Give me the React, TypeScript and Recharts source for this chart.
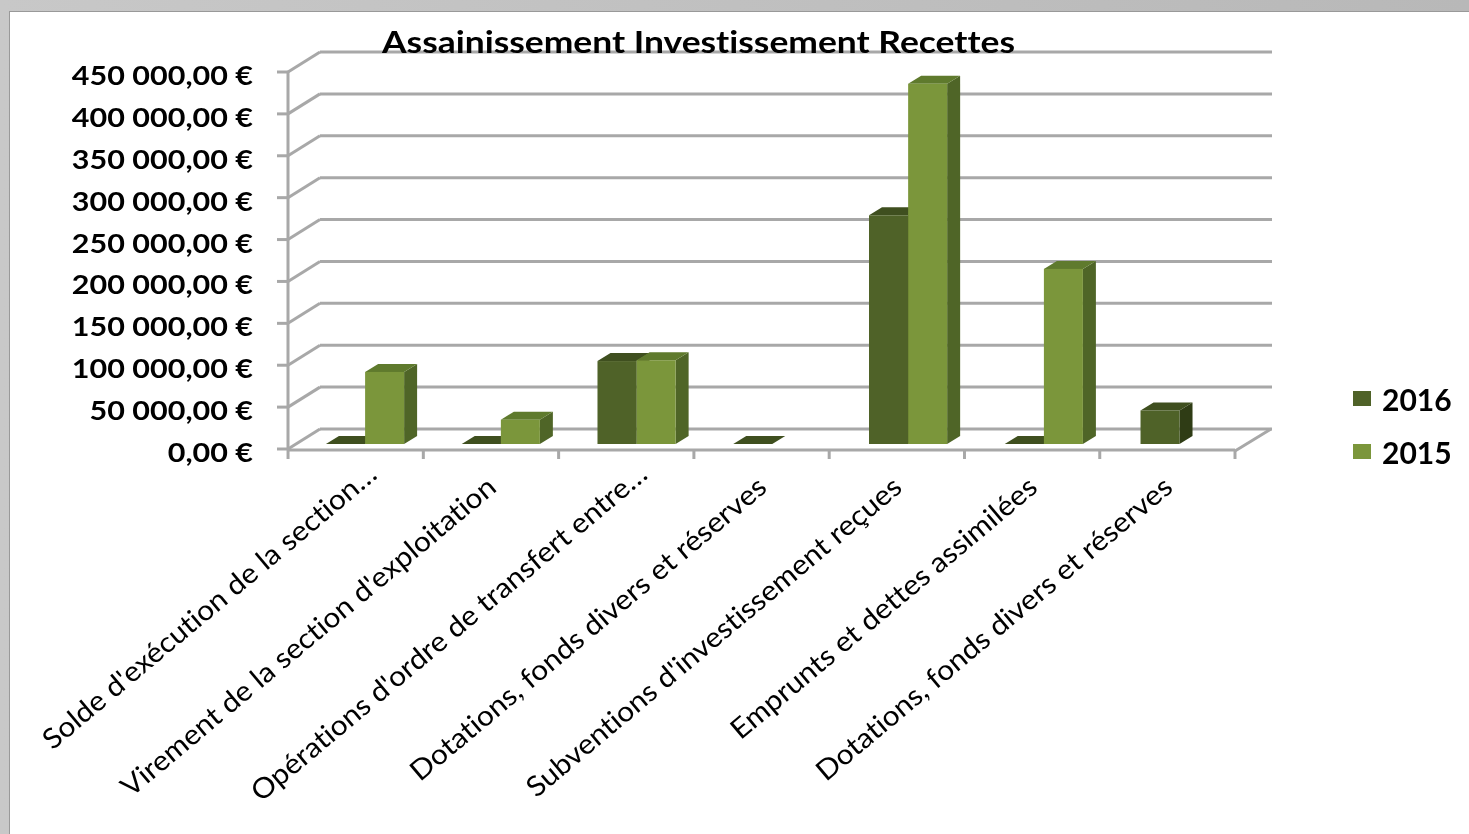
import { BarChart, Bar, XAxis, YAxis, CartesianGrid, Legend } from "recharts"

const categories = [
  "Solde d'exécution de la section…",
  "Virement de la section d'exploitation",
  "Opérations d'ordre de transfert entre…",
  "Dotations, fonds divers et réserves",
  "Subventions d'investissement reçues",
  "Emprunts et dettes assimilées",
  "Dotations, fonds divers et réserves",
]
const values2016 = [0, 0, 99000, 0, 273000, 0, 40000]
const values2015 = [86000, 29000, 100000, null, 430000, 209000, null]
const yTicks = [0, 50000, 100000, 150000, 200000, 250000, 300000, 350000, 400000, 450000]

const data = categories.map((name, i) => ({
  name,
  s2016: values2016[i],
  s2015: values2015[i],
}))

const GRID = "#a8a8a8"
const WALL_DX = 32
const WALL_DY = -20

function formatEuro(v: number) {
  const whole = String(v).replace(/\B(?=(\d{3})+$)/g, "\u00a0")
  return `${whole},00\u00a0€`
}

function GridLine(props: any) {
  const { x1, x2, y1, index } = props
  const isFloor = y1 > 440
  return (
    <g key={index} stroke={GRID} strokeWidth={3} fill="none">
      <line x1={x1} y1={y1} x2={x1 + WALL_DX} y2={y1 + WALL_DY} />
      <line x1={x1 + WALL_DX} y1={y1 + WALL_DY} x2={x2 + 37} y2={y1 + WALL_DY} />
      {isFloor && <line x1={x2} y1={y1 + 2} x2={x2 + 36} y2={y1 + WALL_DY} />}
      {/* last tick of the category axis, the axis only has one per band */}
      {isFloor && <line x1={x2} y1={y1 + 1} x2={x2} y2={y1 + 10} />}
    </g>
  )
}

// fake 3D bar: front face + top + right side
function box3d(top: string, side: string) {
  return function Box(props: any) {
    const { x, y, width, height, fill } = props
    if (x == null || y == null) return null
    const bx = x + 9 + (x - 326) * 0.0035
    const by = y - 5
    const h = height || 0
    const dx = 13
    const dy = -8
    return (
      <g>
        <path
          d={`M${bx + width},${by} l${dx},${dy} v${h} l${-dx},${-dy} z`}
          fill={side}
        />
        <path
          d={`M${bx},${by} l${dx},${dy} h${width} l${-dx},${-dy} z`}
          fill={top}
        />
        <rect x={bx} y={by} width={width} height={h} fill={fill} />
      </g>
    )
  }
}

function CategoryTick(props: any) {
  const { x, y, payload } = props
  // the cut labels sit further up the slope in the original
  const cut = String(payload.value).endsWith("…")
  const ex = cut ? 16 : 0
  const ey = cut ? -13 : 0
  return (
    <text
      transform={`translate(${x + 7 + ex},${y + 30 + ey}) rotate(-40) scale(1.07,1)`}
      textAnchor="end"
      fontFamily="Lato"
      fontSize={28}
      fill="#000"
      style={{ fontVariantLigatures: "none" }}
    >
      {payload.value}
    </text>
  )
}

function ValueTick(props: any) {
  const { x, y, payload } = props
  return (
    <text
      transform={`translate(${x},${y + 13}) scale(1.13,1)`}
      textAnchor="end"
      fontFamily="Lato"
      fontWeight={700}
      fontSize={27}
      fill="#000"
    >
      {formatEuro(payload.value)}
    </text>
  )
}

function LegendList(props: any) {
  const { payload } = props
  return (
    <div>
      {(payload || []).map((p: any) => (
        <div
          key={p.value}
          style={{ display: "flex", alignItems: "center", height: 53 }}
        >
          <span style={{ width: 18, height: 15, background: p.color, marginRight: 11 }} />
          <span style={{ fontFamily: "Lato", fontWeight: 700, fontSize: 30, color: "#000" }}>
            {p.value}
          </span>
        </div>
      ))}
    </div>
  )
}

export default function App() {
  return (
    <div
      style={{
        position: "absolute",
        left: 0,
        top: 0,
        width: 1469,
        height: 834,
        overflow: "hidden",
        background: "linear-gradient(90deg, #c8c8c8, #b8b8b8)",
      }}
    >
      <div
        style={{
          position: "absolute",
          left: 9,
          top: 11,
          width: 1460,
          height: 823,
          background: "#fff",
          borderLeft: "1px solid #999",
          borderTop: "1px solid #999",
        }}
      />
      <div style={{ position: "absolute", left: 0, top: 0, filter: "blur(0.6px)" }}>
        <BarChart
          width={1469}
          height={834}
          data={data}
          barCategoryGap={0}
          barGap={0}
          barSize={39}
          margin={{ top: 72, right: 234, left: 10, bottom: 5 }}
        >
          <CartesianGrid vertical={false} horizontal={GridLine} />
          <XAxis
            dataKey="name"
            interval={0}
            height={380}
            tick={CategoryTick}
            tickSize={9}
            axisLine={{ stroke: GRID, strokeWidth: 3, transform: "translate(0,1)" }}
            tickLine={{ stroke: GRID, strokeWidth: 3, transform: "translate(-67.6,1)" }}
          />
          <YAxis
            width={278}
            domain={[0, 450000]}
            ticks={yTicks}
            tick={ValueTick}
            tickSize={11}
            tickMargin={24}
            axisLine={{ stroke: GRID, strokeWidth: 3 }}
            tickLine={{ stroke: GRID, strokeWidth: 3 }}
          />
          <Legend
            layout="vertical"
            align="center"
            verticalAlign="middle"
            itemSorter={null}
            content={LegendList}
            wrapperStyle={{ left: 1353, top: 372, width: 110 }}
          />
          <Bar
            dataKey="s2016"
            name="2016"
            fill="#4f6228"
            isAnimationActive={false}
            shape={box3d("#3f4f1f", "#2f3c15")}
          />
          <Bar
            dataKey="s2015"
            name="2015"
            fill="#7b963b"
            isAnimationActive={false}
            shape={box3d("#5f7a2d", "#4f6527")}
          />
          <text
            x={382}
            y={53}
            fontFamily="Lato"
            fontWeight={700}
            fontSize={30}
            fill="#000"
            textLength={633}
            lengthAdjust="spacingAndGlyphs"
            style={{ fontVariantLigatures: "none" }}
          >
            Assainissement Investissement Recettes
          </text>
        </BarChart>
      </div>
    </div>
  )
}
